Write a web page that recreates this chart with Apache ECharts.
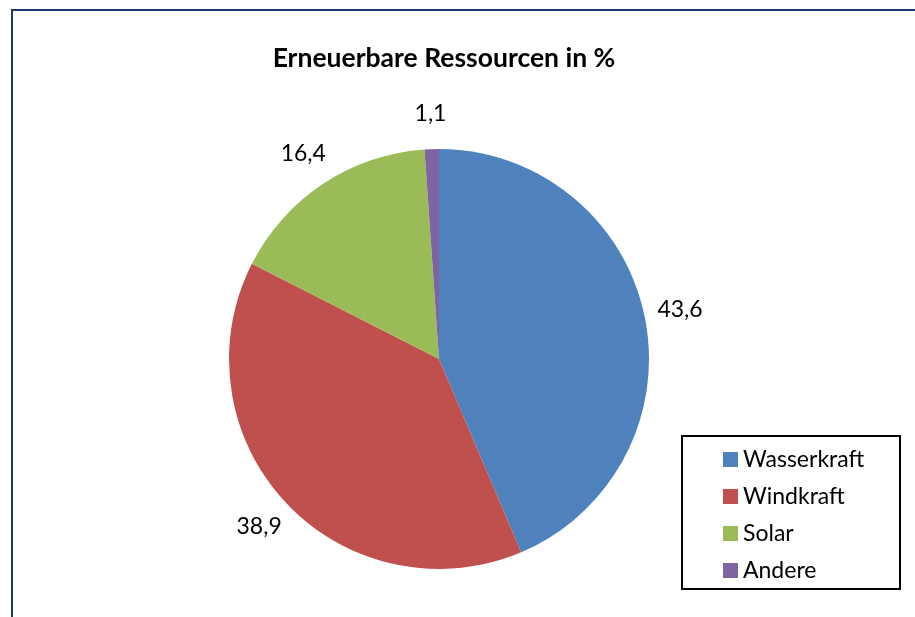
<!DOCTYPE html>
<html>
<head>
<meta charset="utf-8">
<script src="https://cdn.jsdelivr.net/npm/echarts@6/dist/echarts.min.js"></script>
<style>
html,body{margin:0;padding:0;background:#fff;}
#chart{width:915px;height:617px;}
</style>
</head>
<body>
<div id="chart"></div>
<script>
const categories = ['Wasserkraft', 'Windkraft', 'Solar', 'Andere'];
const values = [43.6, 38.9, 16.4, 1.1];
const colors = ['#4F81BD', '#C0504D', '#9BBB59', '#8064A2'];
const titleText = 'Erneuerbare Ressourcen in %';

const chart = echarts.init(document.getElementById('chart'));
const fontFamily = 'Lato, "Open Sans", sans-serif';
const seriesData = categories.map((c, i) => ({ name: c, value: values[i] }));
chart.setOption({
  animation: false,
  graphic: [
    { type: 'rect', shape: { x: 12, y: 10, width: 1000, height: 700 }, style: { fill: 'none', stroke: '#1F3864', lineWidth: 2 }, silent: true },
    { type: 'rect', shape: { x: 682, y: 436, width: 218, height: 153 }, style: { fill: '#fff', stroke: '#000', lineWidth: 2 }, silent: true, z: 0 }
  ],
  title: {
    text: titleText,
    left: 439, top: 40, textAlign: 'center',
    textStyle: { fontFamily: fontFamily, fontWeight: 'bold', fontSize: 26.5, color: '#000' }
  },
  legend: {
    orient: 'vertical',
    left: 718, top: 443,
    itemWidth: 15, itemHeight: 15, itemGap: 14,
    icon: 'rect',
    textStyle: { fontFamily: fontFamily, fontSize: 23, color: '#000' },
    data: categories,
    z: 5
  },
  series: [{
    type: 'pie',
    center: [439, 359],
    radius: 210,
    startAngle: 90,
    clockwise: true,
    color: colors,
    itemStyle: { borderWidth: 0 },
    label: { show: false },
    labelLine: { show: false },
    emphasis: { disabled: true },
    data: seriesData
  }, {
    // transparent ring used only to place the data labels outside the pie
    type: 'pie',
    center: [439, 359],
    radius: [210, 276],
    startAngle: 90,
    clockwise: true,
    silent: true,
    legendHoverLink: false,
    itemStyle: { color: 'rgba(0,0,0,0)', borderWidth: 0 },
    label: {
      show: true, position: 'inside',
      fontFamily: fontFamily, fontSize: 23, color: '#000',
      formatter: p => String(p.value).replace('.', ',')
    },
    labelLine: { show: false },
    emphasis: { disabled: true },
    data: seriesData
  }]
});
</script>
</body>
</html>
